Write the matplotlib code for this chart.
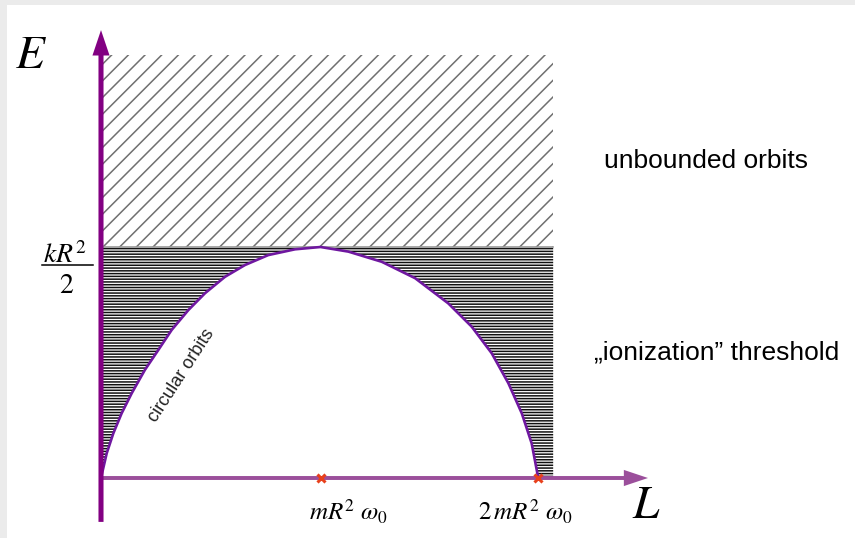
import matplotlib
matplotlib.use('Agg')
import matplotlib.pyplot as plt
from matplotlib.patches import Rectangle

# energy E (units of kR^2/2) against angular momentum L (units of mR^2 w0),
# read off the reference curve
L_curve = [0.0, 0.026, 0.056, 0.094, 0.14, 0.2, 0.261, 0.322, 0.398, 0.474,
           0.565, 0.656, 0.762, 0.884, 1.0, 1.127, 1.279, 1.431, 1.582, 1.689,
           1.78, 1.856, 1.917, 1.962, 1.992]
E_curve = [0.0, 0.107, 0.193, 0.28, 0.367, 0.468, 0.554, 0.641, 0.727, 0.8,
           0.871, 0.922, 0.965, 0.99, 1.0, 0.98, 0.936, 0.865, 0.756, 0.655,
           0.54, 0.41, 0.28, 0.15, 0.0]

L_marks = [1.0, 1.992]
L_region_end = 2.06      # right edge of the shaded regions
E_threshold = 1.0        # kR^2/2
E_region_top = 1.83

plt.rcParams['mathtext.fontset'] = 'stix'
plt.rcParams['hatch.linewidth'] = 1.1

fig = plt.figure(figsize=(8.55, 5.38), dpi=100, facecolor='#ebebeb')
fig.add_artist(Rectangle((7 / 855, 0), 1, 533 / 538, transform=fig.transFigure,
                         facecolor='white', edgecolor='none', zorder=0))
ax = fig.add_axes([0, 0, 1, 1])
ax.set_facecolor('none')
ax.set_xlim(-101 / 219.5, (855 - 101) / 219.5)
ax.set_ylim(-60 / 231, 478 / 231)
ax.axis('off')

# unbounded region above the threshold
ax.fill_between([0.01, L_region_end], E_threshold, E_region_top,
                facecolor='none', edgecolor='#707070', hatch='//', linewidth=0)

# bound, non-circular region between the curve and the threshold
L_fill = L_curve + [L_region_end]
E_fill = E_curve + [0.0]
ax.fill_between(L_fill, E_fill, E_threshold,
                facecolor='none', edgecolor='#111111', hatch='------', linewidth=0)
ax.plot([0.01, L_region_end], [E_threshold, E_threshold], color='#999999', lw=1.2)

ax.plot(L_curve, E_curve, color='#6f17a0', lw=1.9, zorder=4, solid_joinstyle='round')

# axes as arrows
ax.arrow(0, 0, 2.492, 0, width=0.017, head_width=0.07, head_length=0.11,
         length_includes_head=True, color='#9b4f9b', lw=0, zorder=3)
ax.arrow(0, -0.19, 0, 1.939 + 0.19, width=0.023, head_width=0.078, head_length=0.11,
         length_includes_head=True, color='#820082', lw=0, zorder=5)

ax.plot(L_marks, [0, 0], 'x', color='#e8401c', ms=6, mew=2.2, zorder=6)

# labels
ax.text(-0.32, 1.83, '$E$', fontsize=34, ha='center', va='center')
ax.text(2.485, -0.12, '$L$', fontsize=34, ha='center', va='center')
ax.text(-0.165, 0.965, '$kR^{2}$', fontsize=20, ha='center', va='center')
ax.plot([-0.27, -0.035], [0.922, 0.922], color='black', lw=1.1)
ax.text(-0.155, 0.835, '$2$', fontsize=20, ha='center', va='center')
ax.text(1.13, -0.183, r'$mR^{2}\ \omega_{0}$', fontsize=18, ha='center', va='baseline')
ax.text(1.935, -0.183, r'$2\,mR^{2}\ \omega_{0}$', fontsize=18, ha='center', va='baseline')

ax.text(2.754, 1.34, 'unbounded orbits', fontsize=19, family='Liberation Sans',
        ha='center', va='baseline')
ax.text(2.806, 0.514, '\u201eionization\u201d threshold', fontsize=19,
        family='Liberation Sans', ha='center', va='baseline')
ax.text(0.365, 0.444, 'circular orbits', fontsize=13, family='Liberation Sans',
        color='#222222', ha='center', va='center', rotation=57, rotation_mode='anchor')

fig.savefig('out.png', dpi=100, facecolor=fig.get_facecolor())
